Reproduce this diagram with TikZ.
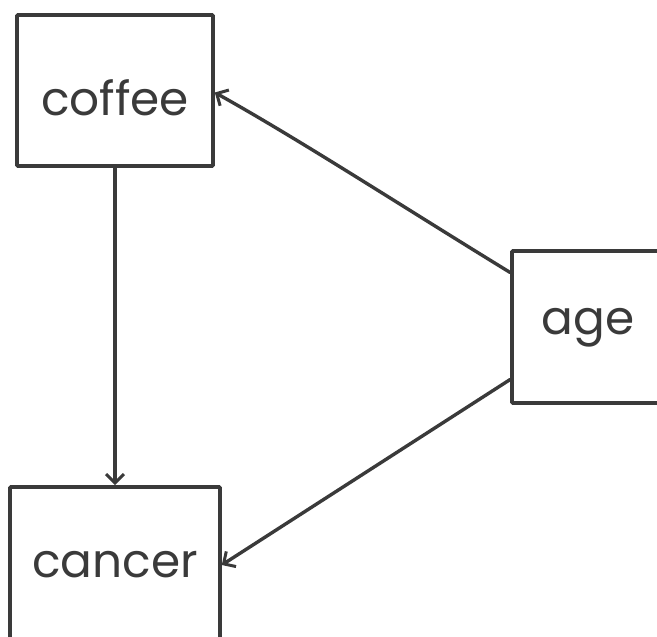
\documentclass[tikz,border=0pt]{standalone}
\usepackage{fontspec}
\setmainfont{Poppins}
\usetikzlibrary{arrows.meta}
\definecolor{ink}{HTML}{3A3A3A}
\tikzset{
  box/.style={draw=ink, line width=3.6pt, rounded corners=1pt, inner sep=0pt},
  lbl/.style={text=ink, inner sep=0pt, anchor=base, font=\fontsize{47}{52}\selectfont},
  link/.style={draw=ink, line width=3.4pt, line cap=round,
    -{Straight Barb[length=9pt,width=18pt,line width=3pt]}}
}
\begin{document}
\begin{tikzpicture}[x=1pt,y=-1pt]
\useasboundingbox (0,0) rectangle (657,637);
\clip (0,0) rectangle (657,637);
\node[box, minimum width=196pt, minimum height=151pt] (coffee) at (115,90.5) {};
\node[box, minimum width=152pt, minimum height=152pt] (age) at (588,327) {};
\node[box, minimum width=210pt, minimum height=152pt] (cancer) at (115,563) {};
\node[lbl] (coffeelbl) at (115,115) {coffee};
\node[lbl] (agelbl) at (588,334) {age};
\node[lbl] (cancerlbl) at (115,577) {cancer};
\draw[link] (coffee.south) -- (cancer.north);
\draw[link] (age.145.6) .. controls (400,205) and (300,140) .. ([yshift=-2pt]coffee.east);
\draw[link] (age.214) -- ([yshift=-2pt]cancer.east);
\end{tikzpicture}
\end{document}
